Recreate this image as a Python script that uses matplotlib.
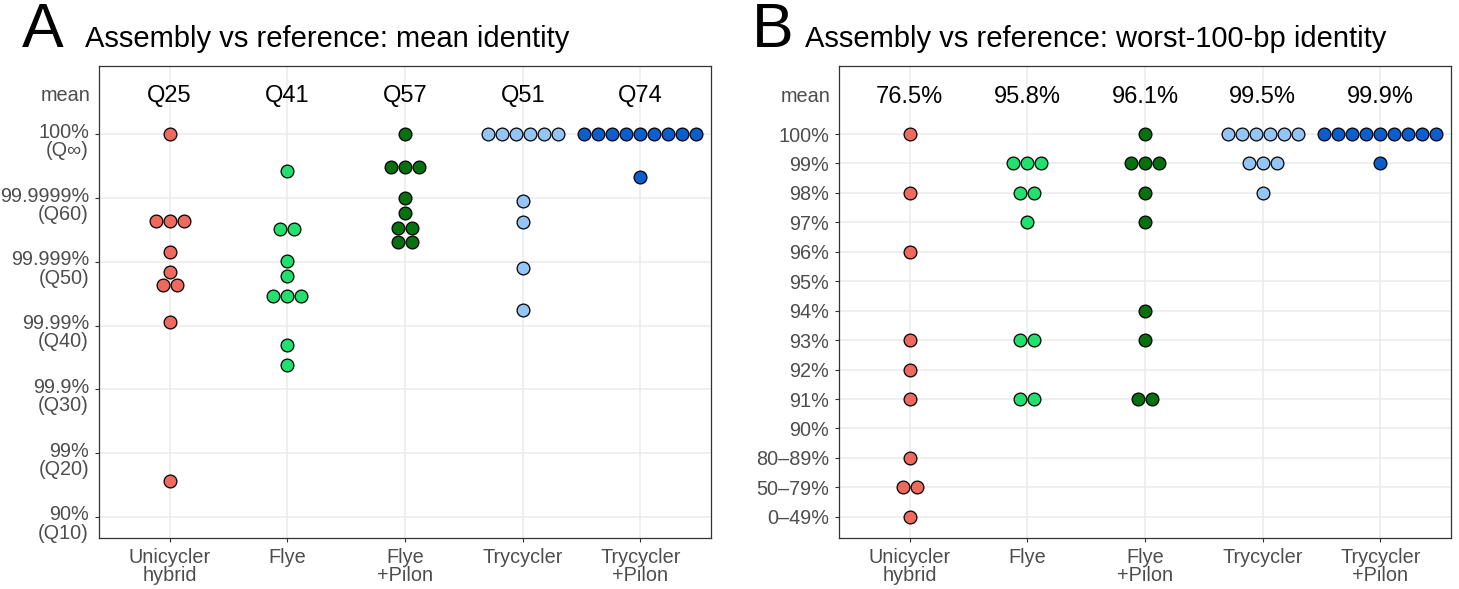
import numpy
import matplotlib
matplotlib.use("Agg")
from matplotlib import pyplot
from matplotlib import transforms

# Data

assemblers = ["Unicycler\nhybrid", "Flye", "Flye\n+Pilon", "Trycycler", "Trycycler\n+Pilon"]
colours = ["#EE6A5F", "#22E06D", "#07700F", "#94C5F7", "#0A5FCC"]

inf = float("inf")

# Panel A: mean identity as a Q-score (inf = perfect assembly)
meanQUnicycler = [inf, 56.4, 56.4, 56.4, 51.5, 48.4, 46.4, 46.4, 40.5, 15.6]
meanQFlye = [64.3, 55.2, 55.2, 50.2, 47.7, 44.6, 44.6, 44.6, 37.0, 33.8]
meanQFlyePilon = [inf, 64.9, 64.9, 64.9, 60.0, 57.6, 55.3, 55.3, 53.1, 53.1]
meanQTrycycler = [inf, inf, inf, inf, inf, inf, 59.5, 56.3, 49.1, 42.4]
meanQTrycyclerPilon = [inf, inf, inf, inf, inf, inf, inf, inf, inf, 63.3]
meanQLabels = ["Q25", "Q41", "Q57", "Q51", "Q74"]

qTicks = [inf, 60, 50, 40, 30, 20, 10]
qTickLabels = ["100%\n(Q\u221e)", "99.9999%\n(Q60)", "99.999%\n(Q50)", "99.99%\n(Q40)",
               "99.9%\n(Q30)", "99%\n(Q20)", "90%\n(Q10)"]

# Panel B: worst-100-bp identity, binned
worstLevels = ["0\u201349%", "50\u201379%", "80\u201389%", "90%", "91%", "92%", "93%",
               "94%", "95%", "96%", "97%", "98%", "99%", "100%"]
worstUnicycler = ["100%", "98%", "96%", "93%", "92%", "91%", "80\u201389%",
                  "50\u201379%", "50\u201379%", "0\u201349%"]
worstFlye = ["99%", "99%", "99%", "98%", "98%", "97%", "93%", "93%", "91%", "91%"]
worstFlyePilon = ["100%", "99%", "99%", "99%", "98%", "97%", "94%", "93%", "91%", "91%"]
worstTrycycler = ["100%", "100%", "100%", "100%", "100%", "100%", "99%", "99%", "99%", "98%"]
worstTrycyclerPilon = ["100%"] * 9 + ["99%"]
worstMeanLabels = ["76.5%", "95.8%", "96.1%", "99.5%", "99.9%"]

# Style

pyplot.rcParams["font.family"] = ["Liberation Sans", "DejaVu Sans"]

figWidth = 1459
figHeight = 589
dpi = 100
dotPx = 14.0
tickGrey = "#4D4D4D"
lineGrey = "#333333"
gridGrey = "#EBEBEB"
tickSize = 14.3
meanSize = 17

fig = pyplot.figure(figsize = (figWidth / dpi, figHeight / dpi), dpi = dpi)


def addAxes(leftPx):
    return fig.add_axes([leftPx / figWidth, (figHeight - 538) / figHeight,
                         612 / figWidth, 472 / figHeight])


def styleAxes(ax):
    ax.set_facecolor("white")
    ax.grid(True, color = gridGrey, linewidth = 1.1, zorder = 0)
    ax.set_axisbelow(True)
    for spine in ax.spines.values():
        spine.set_color(lineGrey)
        spine.set_linewidth(0.9)
    ax.tick_params(axis = "both", length = 3.2, width = 0.8, color = lineGrey,
                   labelcolor = tickGrey, labelsize = tickSize, pad = 4)
    ax.set_xlim(0.4, 5.6)
    ax.set_xticks(range(1, 6))
    ax.set_xticklabels(assemblers, linespacing = 0.95)


def drawDots(ax, position, values, colour):
    # equal values are laid out in a centred row, one dot diameter apart
    spacing = dotPx * 5.2 / 612
    uniqueValues = []
    for v in values:
        if v not in uniqueValues:
            uniqueValues.append(v)
    for v in uniqueValues:
        n = values.count(v)
        xs = [position + (i - (n - 1) / 2.0) * spacing for i in range(n)]
        ax.plot(xs, [v] * n, linestyle = "none", marker = "o", markersize = 9.2,
                markerfacecolor = colour, markeredgecolor = "black",
                markeredgewidth = 0.9, zorder = 3)


def meanLabel(ax, y):
    ax.text(-0.014, y, "mean", transform = transforms.blended_transform_factory(ax.transAxes, ax.transData),
            ha = "right", va = "center", fontsize = tickSize, color = tickGrey)


# Panel A

qInfPosition = 70.0

def qPosition(q):
    if q == inf:
        return qInfPosition
    return q

axA = addAxes(99)
styleAxes(axA)
axA.set_ylim(6.7, 80.7)
axA.set_yticks([qPosition(q) for q in qTicks])
axA.set_yticklabels(qTickLabels, va = "top", linespacing = 0.95)
offset = transforms.ScaledTranslation(0, 11.5 / dpi, fig.dpi_scale_trans)
for label in axA.get_yticklabels():
    label.set_transform(label.get_transform() + offset)

seriesA = [meanQUnicycler, meanQFlye, meanQFlyePilon, meanQTrycycler, meanQTrycyclerPilon]
for i in range(5):
    drawDots(axA, i + 1, [qPosition(q) for q in seriesA[i]], colours[i])
    axA.text(i + 1, 76.0, meanQLabels[i], ha = "center", va = "center", fontsize = meanSize, color = "black")
meanLabel(axA, 76.0)

# Panel B

axB = addAxes(839)
styleAxes(axB)
axB.set_ylim(-0.72, 15.31)
axB.set_yticks(range(len(worstLevels)))
axB.set_yticklabels(worstLevels)

seriesB = [worstUnicycler, worstFlye, worstFlyePilon, worstTrycycler, worstTrycyclerPilon]
for i in range(5):
    drawDots(axB, i + 1, [worstLevels.index(v) for v in seriesB[i]], colours[i])
    axB.text(i + 1, 14.27, worstMeanLabels[i], ha = "center", va = "center", fontsize = meanSize, color = "black")
meanLabel(axB, 14.27)

# Titles and panel letters

fig.text(22 / figWidth, 1 - 47 / figHeight, "A", fontsize = 45, va = "baseline", ha = "left")
fig.text(85 / figWidth, 1 - 47 / figHeight, "Assembly vs reference: mean identity",
         fontsize = 21, va = "baseline", ha = "left")
fig.text(752 / figWidth, 1 - 47 / figHeight, "B", fontsize = 45, va = "baseline", ha = "left")
fig.text(805 / figWidth, 1 - 47 / figHeight, "Assembly vs reference: worst-100-bp identity",
         fontsize = 21, va = "baseline", ha = "left")

fig.savefig("out.png", dpi = dpi, facecolor = "white")
pyplot.close()
